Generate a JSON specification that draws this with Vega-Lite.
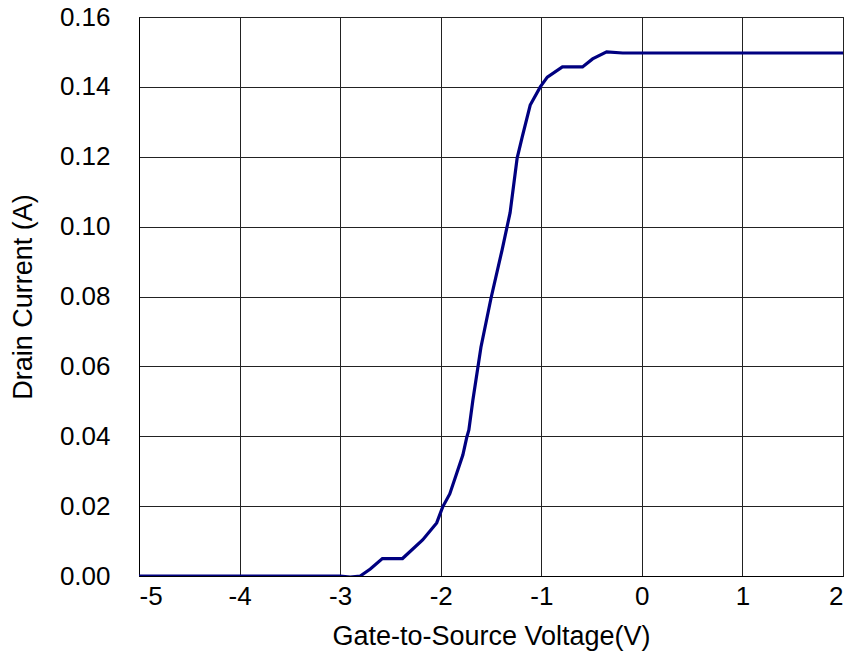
{
  "$schema": "https://vega.github.io/schema/vega-lite/v6.json",
  "width": 704,
  "height": 559,
  "autosize": "none",
  "padding": {"left": 139, "top": 17, "right": 10, "bottom": 87},
  "background": "white",
  "config": {
    "view": {"stroke": "black", "strokeWidth": 1},
    "font": "Liberation Sans",
    "axis": {
      "labelFont": "Liberation Sans",
      "titleFont": "Liberation Sans",
      "labelFontSize": 26,
      "titleFontSize": 27,
      "titleFontWeight": "normal",
      "labelColor": "black",
      "titleColor": "black",
      "domainColor": "black",
      "gridColor": "#222222",
      "gridOpacity": 1,
      "gridWidth": 1,
      "tickColor": "black",
      "tickSize": 0
    }
  },
  "data": {
    "values": [
      {"v": -5.0, "i": 0.0},
      {"v": -4.0, "i": 0.0},
      {"v": -3.0, "i": 0.0},
      {"v": -2.9, "i": -0.0003},
      {"v": -2.8, "i": 0.0},
      {"v": -2.7, "i": 0.002},
      {"v": -2.58, "i": 0.005},
      {"v": -2.38, "i": 0.005},
      {"v": -2.18, "i": 0.0103},
      {"v": -2.04, "i": 0.0152},
      {"v": -1.98, "i": 0.0198},
      {"v": -1.91, "i": 0.0235},
      {"v": -1.84, "i": 0.0295},
      {"v": -1.78, "i": 0.0346},
      {"v": -1.74, "i": 0.0398},
      {"v": -1.72, "i": 0.0418},
      {"v": -1.68, "i": 0.0504},
      {"v": -1.6, "i": 0.0655},
      {"v": -1.5, "i": 0.0795},
      {"v": -1.39, "i": 0.0933},
      {"v": -1.31, "i": 0.104},
      {"v": -1.24, "i": 0.1196},
      {"v": -1.19, "i": 0.1256},
      {"v": -1.11, "i": 0.1348},
      {"v": -1.01, "i": 0.1400},
      {"v": -0.94, "i": 0.1428},
      {"v": -0.79, "i": 0.1457},
      {"v": -0.59, "i": 0.1457},
      {"v": -0.49, "i": 0.1480},
      {"v": -0.35, "i": 0.1500},
      {"v": -0.19, "i": 0.1497},
      {"v": 0.5, "i": 0.1497},
      {"v": 2.0, "i": 0.1497}
    ]
  },
  "mark": {"type": "line", "color": "#000080", "strokeWidth": 3.2, "clip": true},
  "encoding": {
    "x": {
      "field": "v",
      "type": "quantitative",
      "scale": {"domain": [-5, 2], "nice": false, "zero": false},
      "axis": {
        "title": "Gate-to-Source Voltage(V)",
        "values": [-5, -4, -3, -2, -1, 0, 1, 2],
        "labelExpr": "'' + datum.value",
        "labelPadding": 7,
        "titlePadding": 14
      }
    },
    "y": {
      "field": "i",
      "type": "quantitative",
      "scale": {"domain": [0, 0.16], "nice": false},
      "axis": {
        "title": "Drain Current (A)",
        "values": [0, 0.02, 0.04, 0.06, 0.08, 0.1, 0.12, 0.14, 0.16],
        "format": ".2f",
        "labelPadding": 29,
        "titlePadding": 22
      }
    }
  }
}
